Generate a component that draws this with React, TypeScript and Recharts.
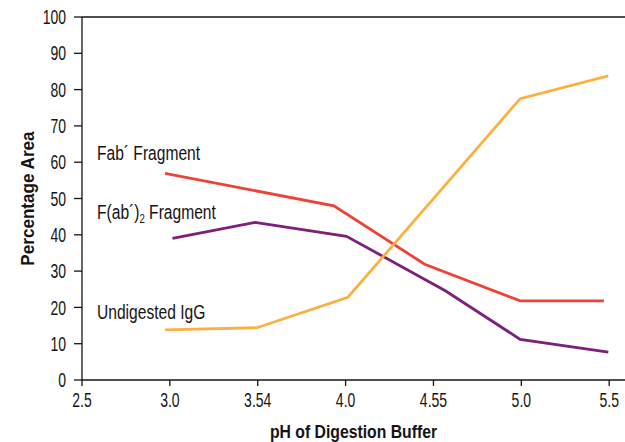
import React from 'react';
import { LineChart, Line, XAxis, YAxis, ReferenceLine, Customized } from 'recharts';

// Category labels along the pH axis (evenly spaced positions 0..6)
const xTickLabels = ['2.5', '3.0', '3.54', '4.0', '4.55', '5.0', '5.5'];
const yTicks = [0, 10, 20, 30, 40, 50, 60, 70, 80, 90, 100];

// Fab' Fragment (red)
const fabPos = [0.945, 2.867, 3.9, 4.987, 5.94];
const fabVal = [56.9, 48.0, 31.9, 21.8, 21.8];

// F(ab')2 Fragment (purple)
const fab2Pos = [1.03, 1.97, 3.01, 4.135, 4.987, 5.99];
const fab2Val = [39.0, 43.4, 39.6, 24.6, 11.2, 7.7];

// Undigested IgG (orange)
const iggPos = [0.945, 1.99, 3.026, 4.987, 5.99];
const iggVal = [13.8, 14.4, 22.8, 77.5, 83.8];

const toPoints = (xs: number[], ys: number[]) => xs.map((x, i) => ({ x, y: ys[i] }));

const fabData = toPoints(fabPos, fabVal);
const fab2Data = toPoints(fab2Pos, fab2Val);
const iggData = toPoints(iggPos, iggVal);

const INK = '#161314';
const FONT = "'Liberation Sans', Arial, sans-serif";
const TICK_SQUEEZE = 0.7;
const NOTE_SQUEEZE = 0.8;

const XTick = (props: any) => {
  const { x, y, payload } = props;
  return (
    <g transform={`translate(${x},${y})`}>
      <text
        transform={`scale(${TICK_SQUEEZE},1)`}
        textAnchor="middle"
        dy="0.71em"
        fontFamily={FONT}
        fontSize={20}
        fill={INK}
      >
        {xTickLabels[payload.value]}
      </text>
    </g>
  );
};

const YTick = (props: any) => {
  const { x, y, payload } = props;
  return (
    <g transform={`translate(${x},${y})`}>
      <text
        transform={`scale(${TICK_SQUEEZE},1)`}
        textAnchor="end"
        dy="0.355em"
        fontFamily={FONT}
        fontSize={20}
        fill={INK}
      >
        {payload.value}
      </text>
    </g>
  );
};

const Note = ({ x, y, children }: { x: number; y: number; children: React.ReactNode }) => (
  <text transform={`translate(${x},${y}) scale(${NOTE_SQUEEZE},1)`} fontFamily={FONT} fontSize={19.5} fill={INK}>
    {children}
  </text>
);

const Annotations = () => (
  <g>
    <Note x={97} y={160}>Fab´ Fragment</Note>
    <Note x={97} y={219}>
      F(ab´)<tspan fontSize={12} dy={4}>2</tspan>
      <tspan dy={-4}> Fragment</tspan>
    </Note>
    <Note x={97} y={319}>Undigested IgG</Note>
  </g>
);

const YTitle = (props: any) => {
  const vb = props.viewBox || {};
  const cx = 28;
  const cy = (vb.y ?? 17) + (vb.height ?? 363) / 2;
  return (
    <text
      transform={`translate(${cx},${cy}) rotate(-90) scale(0.9,1)`}
      textAnchor="middle"
      dominantBaseline="central"
      fontFamily={FONT}
      fontWeight="bold"
      fontSize={19}
      fill={INK}
    >
      Percentage Area
    </text>
  );
};

const XTitle = (props: any) => {
  const vb = props.viewBox || {};
  const cx = (vb.x ?? 82) + (vb.width ?? 543) / 2;
  const cy = (vb.y ?? 380) + (vb.height ?? 62) - 4;
  return (
    <text
      transform={`translate(${cx},${cy}) scale(0.83,1)`}
      textAnchor="middle"
      fontFamily={FONT}
      fontWeight="bold"
      fontSize={19}
      fill={INK}
    >
      pH of Digestion Buffer
    </text>
  );
};

export default function App() {
  return (
    <div style={{ position: 'absolute', left: 0, top: 0 }}>
      <LineChart width={625} height={442} margin={{ top: 17, right: 0, bottom: 0, left: 0 }}>
        <XAxis
          type="number"
          dataKey="x"
          domain={[0, 6.18]}
          ticks={[0, 1, 2, 3, 4, 5, 6]}
          allowDataOverflow
          height={62}
          tickSize={6}
          tickMargin={7}
          stroke={INK}
          strokeWidth={1.3}
          tick={<XTick />}
          label={<XTitle />}
        />
        <YAxis
          type="number"
          domain={[0, 100]}
          ticks={yTicks}
          width={82}
          tickSize={8}
          tickMargin={8}
          stroke={INK}
          strokeWidth={1.3}
          tick={<YTick />}
          label={<YTitle />}
        />
        <ReferenceLine y={100} stroke={INK} strokeWidth={1.3} />
        <Line data={fabData} dataKey="y" type="linear" stroke="#EF4136" strokeWidth={2.8} dot={false} isAnimationActive={false} />
        <Line data={fab2Data} dataKey="y" type="linear" stroke="#7D1F7C" strokeWidth={2.8} dot={false} isAnimationActive={false} />
        <Line data={iggData} dataKey="y" type="linear" stroke="#FBB040" strokeWidth={2.8} dot={false} isAnimationActive={false} />
        <Customized component={Annotations} />
      </LineChart>
    </div>
  );
}
